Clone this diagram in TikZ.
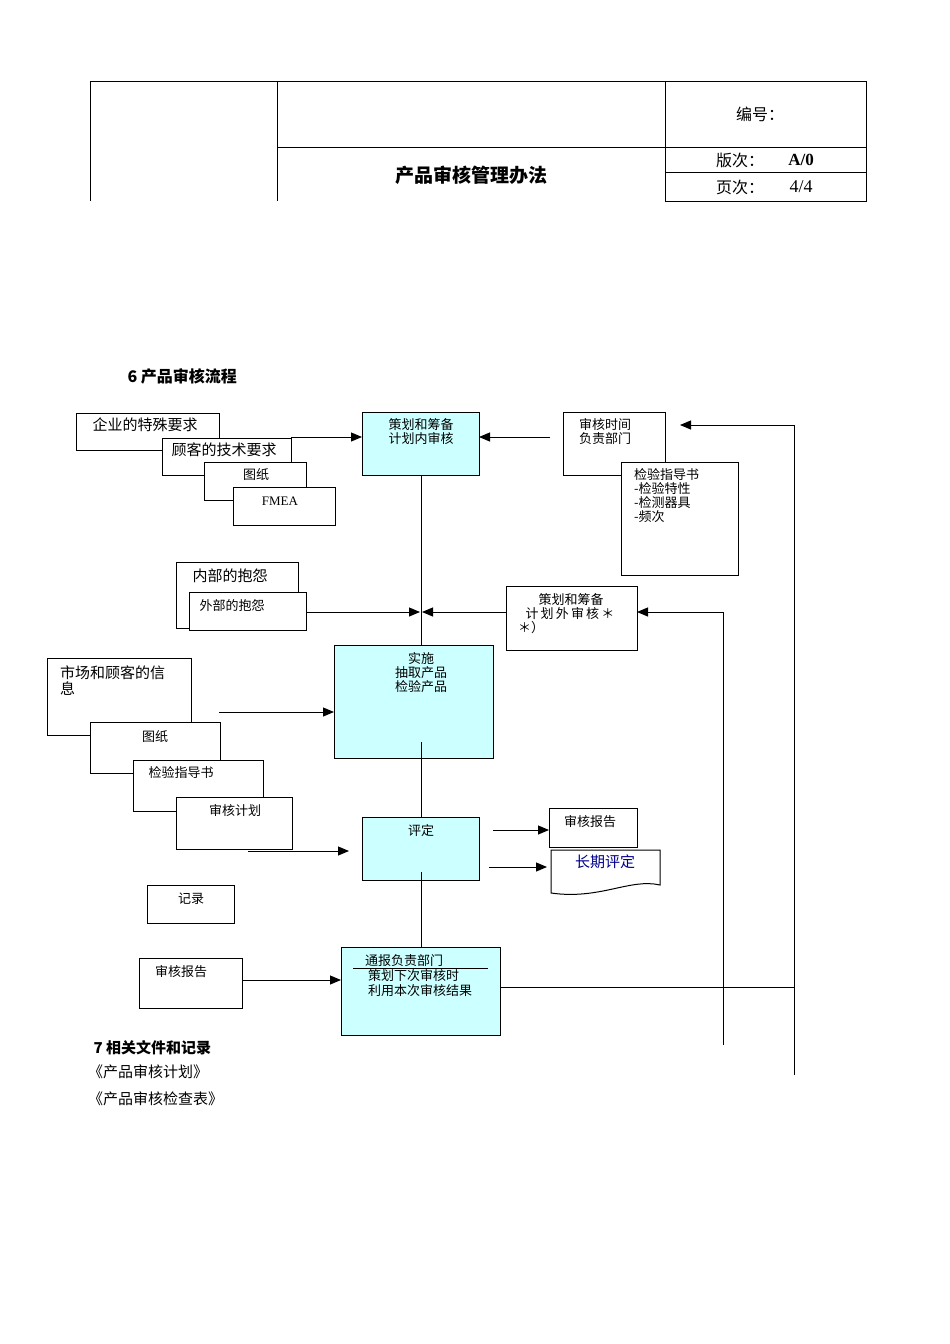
\documentclass[tikz,border=0pt]{standalone}
\usepackage{fontspec}
\setmainfont{Liberation Serif}
\newfontfamily\cjk{Noto Sans CJK SC}
\usetikzlibrary{arrows.meta}
\definecolor{lightcy}{RGB}{204,255,255}
\begin{document}
\begin{tikzpicture}[x=1pt,y=-1pt,
  bx/.style={draw,line width=1pt,fill=white},
  cy/.style={draw,line width=1pt,fill=lightcy},
  tx/.style={font=\cjk\fontsize{13}{14}\selectfont,inner sep=0pt,align=left},
  arr/.style={-{Triangle[length=11pt,width=9pt]},line width=1pt},
  ln/.style={line width=1pt}]
\useasboundingbox (0,0) rectangle (950,1344);
% header
\draw[line width=0.7pt] (90,201)--(90,81)--(866,81)--(866,201)--(665,201)--(665,81);
\draw[line width=0.7pt] (277,81)--(277,201) (277,147)--(866,147) (665,172)--(866,172);
\node[font=\cjk\bfseries\fontsize{19}{20}\selectfont] (title) at (471,175) {产品审核管理办法};
\node[font=\cjk\fontsize{16}{17}\selectfont] (bh) at (760,114) {编号：};
\node[font=\cjk\fontsize{16}{17}\selectfont] (bc) at (740,160) {版次：};
\node[font=\bfseries\fontsize{17}{18}\selectfont] (bv) at (801,160) {A/0};
\node[font=\cjk\fontsize{16}{17}\selectfont] (yc) at (740,187) {页次：};
\node[font=\fontsize{18}{19}\selectfont] (yv) at (801,187) {4/4};
\node[font=\cjk\bfseries\fontsize{16}{17}\selectfont,anchor=west] (s6) at (124,376) {6 产品审核流程};
% left top stack
\draw[bx] (76,413) rectangle (219,450);
\node[tx,font=\cjk\fontsize{15}{16}\selectfont] (q1) at (145,425) {企业的特殊要求};
\draw[bx] (162,438) rectangle (291,475);
\node[tx,font=\cjk\fontsize{15}{16}\selectfont] (q2) at (224,450) {顾客的技术要求};
\draw[bx] (204,462) rectangle (306,500);
\node[tx] (q3) at (256,475) {图纸};
\draw[bx] (233,487) rectangle (335,525);
\node[tx,font=\fontsize{13}{14}\selectfont] (q4) at (280,501) {FMEA};
% planning
\draw[cy] (362,412) rectangle (479,475);
\node[tx,align=center] (plan) at (421,432) {策划和筹备\\计划内审核};
\draw[bx] (563,412) rectangle (665,475);
\node[tx] (time) at (605,432) {审核时间\\负责部门};
\draw[bx] (621,462) rectangle (738,575);
\node[tx,anchor=north west] (ins) at (634,468) {检验指导书\\-检验特性\\-检测器具\\-频次};
% complaints
\draw[bx] (176,562) rectangle (298,628);
\node[tx,font=\cjk\fontsize{15}{16}\selectfont] (c1) at (230,576) {内部的抱怨};
\draw[bx] (189,592) rectangle (306,630);
\node[tx] (c2) at (232,606) {外部的抱怨};
\draw[bx] (506,586) rectangle (637,650);
\node[tx,align=center] (ext) at (571,600) {策划和筹备};
\node[tx] (ext2) at (570,614) {计\,划\,外\,审\,核\,＊};
\node[tx] (ext3) at (531,628) {＊）};
% implementation
\draw[cy] (334,645) rectangle (493,758);
\node[tx,align=center,anchor=north] (impl) at (421,652) {实施\\抽取产品\\检验产品};
\draw[bx] (47,658) rectangle (191,735);
\node[tx,font=\cjk\fontsize{15}{16}\selectfont,anchor=north west] (mk) at (60,666) {市场和顾客的信\\息};
\draw[bx] (90,722) rectangle (220,773);
\node[tx] (d2) at (155,737) {图纸};
\draw[bx] (133,760) rectangle (263,811);
\node[tx] (i2) at (181,773) {检验指导书};
\draw[bx] (176,797) rectangle (292,849);
\node[tx] (ap) at (235,811) {审核计划};
% evaluation
\draw[cy] (362,817) rectangle (479,880);
\node[tx] (ev) at (421,831) {评定};
\draw[bx] (549,808) rectangle (637,847);
\node[tx] (rep) at (590,822) {审核报告};
\draw[line width=1pt,fill=white] (551,850)--(660,850)--(660,885) .. controls (630,878) and (600,900) .. (551,893) -- cycle;
\node[tx,font=\cjk\fontsize{15}{16}\selectfont,text=blue!55!black] (lt) at (605,862) {长期评定};
\draw[bx] (147,885) rectangle (234,923);
\node[tx] (rec) at (191,899) {记录};
\draw[bx] (139,958) rectangle (242,1008);
\node[tx] (rep2) at (181,972) {审核报告};
\draw[cy] (341,947) rectangle (500,1035);
\node[tx,anchor=west] (n1) at (365,961) {通报负责部门};
\draw[ln] (353,968)--(488,968);
\node[tx,anchor=west] (n2) at (368,976) {策划下次审核时};
\node[tx,anchor=west] (n3) at (368,991) {利用本次审核结果};
% connectors
\draw[arr] (291,437)--(362,437);
\draw[arr] (550,437)--(479,437);
\draw[ln] (421,475)--(421,645) (421,742)--(421,817) (421,872)--(421,947);
\draw[arr] (306,612)--(420,612);
\draw[arr] (506,612)--(422,612);
\draw[arr] (219,712)--(334,712);
\draw[arr] (248,851)--(349,851);
\draw[arr] (493,830)--(549,830);
\draw[arr] (489,867)--(547,867);
\draw[arr] (242,980)--(341,980);
\draw[ln] (500,987)--(794,987);
\draw[ln] (794,1075)--(794,425);
\draw[arr] (794,425)--(680,425);
\draw[ln] (723,1045)--(723,612);
\draw[arr] (723,612)--(637,612);
% section 7
\node[font=\cjk\bfseries\fontsize{15}{16}\selectfont,anchor=west] (s7) at (90,1048) {7 相关文件和记录};
\node[tx,font=\cjk\fontsize{15}{16}\selectfont,anchor=west] (f1) at (88,1072) {《产品审核计划》};
\node[tx,font=\cjk\fontsize{15}{16}\selectfont,anchor=west] (f2) at (88,1099) {《产品审核检查表》};
\end{tikzpicture}
\end{document}
